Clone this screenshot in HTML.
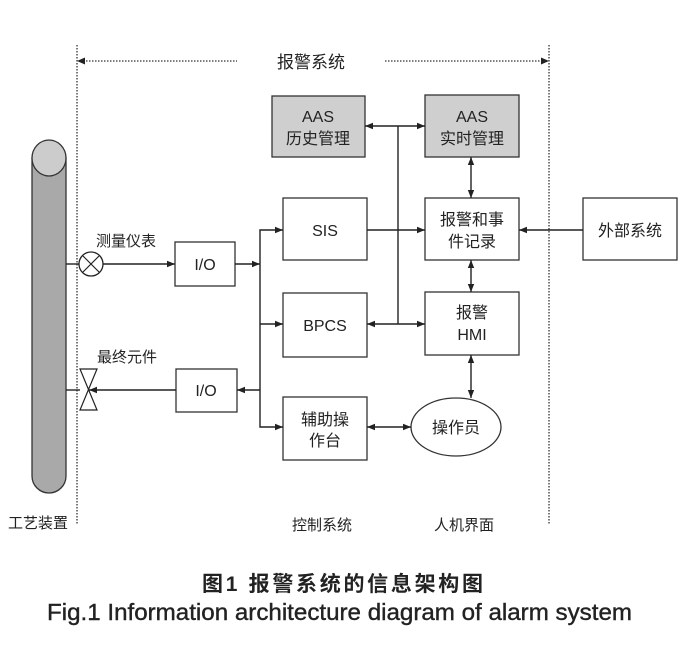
<!DOCTYPE html>
<html><head><meta charset="utf-8"><style>
html,body{margin:0;padding:0;background:#fff}
svg{display:block}
text{font-family:"Liberation Sans","Noto Sans CJK SC",sans-serif;fill:#222}
</style></head><body>
<svg width="692" height="648" viewBox="0 0 692 648" xmlns="http://www.w3.org/2000/svg">
<defs>
<marker id="a" viewBox="0 0 10 10" refX="10" refY="5" markerWidth="8" markerHeight="8" orient="auto-start-reverse" markerUnits="userSpaceOnUse"><path d="M0,1 L10,5 L0,9 z" fill="#222"/></marker>
</defs>
<g stroke="#333" stroke-width="1.3" stroke-dasharray="1.5,1.5" fill="none">
<line x1="77" y1="45" x2="77" y2="525"/>
<line x1="549" y1="45" x2="549" y2="525"/>
<line x1="80" y1="61" x2="237" y2="61"/>
<line x1="385" y1="61" x2="546" y2="61"/>
</g>
<path d="M77,61 l8,-3.5 v7z" fill="#222"/>
<path d="M549,61 l-8,-3.5 v7z" fill="#222"/>
<text x="311" y="68" font-size="17" text-anchor="middle">报警系统</text>
<path d="M32,158 V476 A17,17 0 0 0 66,476 V158 Z" fill="#a9a9a9" stroke="#333" stroke-width="1.3"/>
<ellipse cx="49" cy="158" rx="17" ry="18" fill="#ccc" stroke="#333" stroke-width="1.3"/>
<g stroke="#222" stroke-width="1.4" fill="none">
<line x1="66" y1="264" x2="79" y2="264"/>
<line x1="66" y1="390" x2="80" y2="390"/>
</g>
<circle cx="91" cy="264" r="12" fill="#fff" stroke="#222" stroke-width="1.3"/>
<path d="M83,256 L99,272 M99,256 L83,272" stroke="#222" stroke-width="1.2"/>
<path d="M80,369 L97,369 L80,410 L97,410 Z" fill="#fff" stroke="#222" stroke-width="1.2"/>
<text x="96" y="246" font-size="15">测量仪表</text>
<text x="97" y="362" font-size="15">最终元件</text>
<text x="8" y="528" font-size="15">工艺装置</text>
<text x="292" y="530" font-size="15">控制系统</text>
<text x="434" y="530" font-size="15">人机界面</text>
<g stroke="#333" stroke-width="1.3">
<rect x="272" y="96" width="93" height="61" fill="#cfcfcf"/>
<rect x="425" y="95" width="94" height="62" fill="#cfcfcf"/>
<rect x="283" y="198" width="84" height="62" fill="#fff"/>
<rect x="283" y="293" width="84" height="64" fill="#fff"/>
<rect x="283" y="397" width="84" height="63" fill="#fff"/>
<rect x="175" y="242" width="60" height="44" fill="#fff"/>
<rect x="176" y="369" width="61" height="43" fill="#fff"/>
<rect x="425" y="198" width="94" height="62" fill="#fff"/>
<rect x="425" y="292" width="94" height="63" fill="#fff"/>
<rect x="583" y="198" width="94" height="62" fill="#fff"/>
<ellipse cx="456" cy="427" rx="45" ry="29" fill="#fff"/>
</g>
<g font-size="16" text-anchor="middle">
<text x="318" y="122">AAS</text><text x="318" y="144">历史管理</text>
<text x="472" y="122">AAS</text><text x="472" y="144">实时管理</text>
<text x="325" y="236">SIS</text>
<text x="325" y="331">BPCS</text>
<text x="325" y="425">辅助操</text><text x="325" y="446">作台</text>
<text x="205" y="270">I/O</text>
<text x="206" y="396">I/O</text>
<text x="472" y="225">报警和事</text><text x="472" y="247">件记录</text>
<text x="472" y="318">报警</text><text x="472" y="340">HMI</text>
<text x="630" y="236">外部系统</text>
<text x="456" y="433">操作员</text>
</g>
<g stroke="#222" stroke-width="1.4" fill="none">
<line x1="103" y1="264" x2="175" y2="264" marker-end="url(#a)"/>
<line x1="235" y1="264" x2="260" y2="264" marker-end="url(#a)"/>
<polyline points="283,230 260,230 260,427 283,427" marker-start="url(#a)" marker-end="url(#a)"/>
<line x1="260" y1="324" x2="283" y2="324" marker-end="url(#a)"/>
<line x1="260" y1="390" x2="237" y2="390" marker-end="url(#a)"/>
<line x1="176" y1="390" x2="89" y2="390" marker-end="url(#a)"/>
<line x1="398" y1="126" x2="398" y2="324"/>
<line x1="398" y1="126" x2="365" y2="126" marker-end="url(#a)"/>
<line x1="398" y1="126" x2="425" y2="126" marker-end="url(#a)"/>
<line x1="367" y1="230" x2="425" y2="230" marker-end="url(#a)"/>
<line x1="398" y1="324" x2="367" y2="324" marker-end="url(#a)"/>
<line x1="398" y1="324" x2="425" y2="324" marker-end="url(#a)"/>
<line x1="583" y1="230" x2="519" y2="230" marker-end="url(#a)"/>
<line x1="471" y1="157" x2="471" y2="198" marker-start="url(#a)" marker-end="url(#a)"/>
<line x1="471" y1="260" x2="471" y2="292" marker-start="url(#a)" marker-end="url(#a)"/>
<line x1="471" y1="355" x2="471" y2="398" marker-start="url(#a)" marker-end="url(#a)"/>
<line x1="367" y1="427" x2="411" y2="427" marker-start="url(#a)" marker-end="url(#a)"/>
</g>
<text x="202" y="591" font-size="21" font-weight="bold" textLength="281" lengthAdjust="spacing">图1  报警系统的信息架构图</text>
<text x="47" y="620" font-size="23" stroke="#222" stroke-width="0.4" textLength="585" lengthAdjust="spacingAndGlyphs">Fig.1  Information architecture diagram of alarm system</text>
</svg>
</body></html>
